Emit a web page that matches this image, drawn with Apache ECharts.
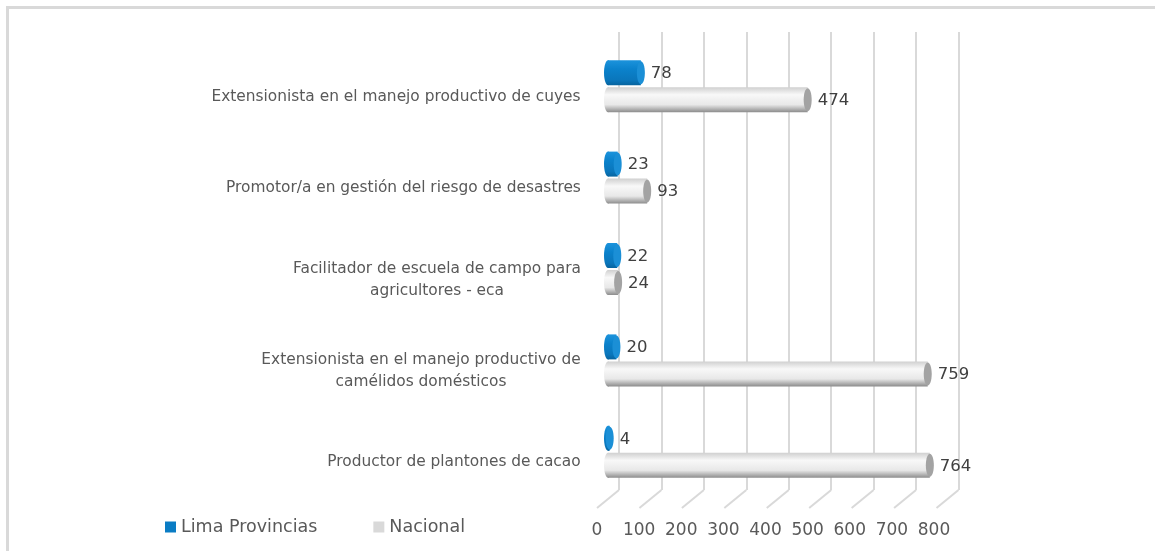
<!DOCTYPE html>
<html>
<head>
<meta charset="utf-8">
<script src="https://cdn.jsdelivr.net/npm/echarts@6/dist/echarts.min.js"></script>
<style>
  html, body { margin: 0; padding: 0; background: #fff; }
  #wrap { position: relative; width: 1155px; height: 551px; }
  #frame {
    position: absolute; left: 6px; top: 6px; right: 0; bottom: 0;
    border-top: 3px solid #d9d9d9; border-left: 3px solid #d9d9d9;
  }
  #chart { position: absolute; left: 0; top: 0; width: 1155px; height: 551px; }
</style>
</head>
<body>
<div id="wrap">
  <div id="frame"></div>
  <div id="chart"></div>
</div>
<script>
const categories = [
  'Extensionista en el manejo productivo de cuyes',
  'Promotor/a en gestión del riesgo de desastres',
  'Facilitador de escuela de campo para\nagricultores - eca',
  'Extensionista en el manejo productivo de\ncamélidos domésticos',
  'Productor de plantones de cacao'
];
const limaValues = [78, 23, 22, 20, 4];
const nacionalValues = [474, 93, 24, 759, 764];
const axisTicks = [0, 100, 200, 300, 400, 500, 600, 700, 800];

const FONT = '"DejaVu Sans", sans-serif';
const catFontSize = 15.4;

const chart = echarts.init(document.getElementById('chart'));

// measure lines so each label block is right-aligned but its lines are centred
const ctx = document.createElement('canvas').getContext('2d');
ctx.font = catFontSize + 'px "DejaVu Sans"';
const rich = {};
categories.forEach((c, i) => {
  const w = Math.max(...c.split('\n').map((l) => ctx.measureText(l).width));
  rich['r' + i] = { width: Math.ceil(w) + 2, align: 'center', fontSize: catFontSize, fontFamily: FONT, color: '#595959', lineHeight: 22 };
});

function cylinder(offset, bodyColor, capColor) {
  return function (params, api) {
    const cat = api.value(0);
    const val = api.value(1);
    const p0 = api.coord([0, cat]);
    const p1 = api.coord([val, cat]);
    const h = 25;
    const rx = 4;
    const cy = p0[1] + offset;
    const grad = new echarts.graphic.LinearGradient(0, 0, 0, 1, bodyColor);
    return {
      type: 'group',
      children: [
        { type: 'ellipse', shape: { cx: p0[0], cy: cy, rx: rx, ry: h / 2 }, style: { fill: grad } },
        { type: 'rect', shape: { x: p0[0], y: cy - h / 2, width: Math.max(p1[0] - p0[0], 0), height: h }, style: { fill: grad } },
        { type: 'ellipse', shape: { cx: p1[0], cy: cy, rx: rx, ry: h / 2 - 1 }, style: { fill: capColor } },
        {
          type: 'text',
          style: {
            x: p1[0] + rx + 6, y: cy + 1, text: String(val),
            fill: '#404040', font: '16.5px ' + FONT, verticalAlign: 'middle', align: 'left'
          }
        }
      ]
    };
  };
}

const grayBody = [
  { offset: 0, color: '#d0d0d0' },
  { offset: 0.3, color: '#f8f8f8' },
  { offset: 0.7, color: '#e8e8e8' },
  { offset: 1, color: '#8c8c8c' }
];
const blueBody = [
  { offset: 0, color: '#1c93dc' },
  { offset: 0.35, color: '#0b82cc' },
  { offset: 0.8, color: '#0a76bb' },
  { offset: 1, color: '#07649f' }
];

chart.setOption({
  animation: false,
  textStyle: { fontFamily: FONT },
  legend: {
    left: 160,
    top: 513,
    itemWidth: 11,
    itemHeight: 11,
    itemGap: 56,
    itemSpacing: 4,
    icon: 'rect',
    textStyle: { fontSize: 17.5, color: '#595959', fontFamily: FONT },
    data: [
      { name: 'Lima Provincias', itemStyle: { color: '#0a7cc4' } },
      { name: 'Nacional', itemStyle: { color: '#d9d9d9' } }
    ]
  },
  grid: [
    { left: 619, right: 196.5, top: 32, bottom: 61 },   // back wall
    { left: 608, right: 210, top: 41, bottom: 53 },     // bars
    { left: 597, right: 221, top: 32, bottom: 41 }      // front tick labels
  ],
  xAxis: [
    {
      gridIndex: 0, type: 'value', min: 0, max: 800, interval: 100,
      axisLine: { show: false }, axisTick: { show: false }, axisLabel: { show: false },
      splitLine: { show: true, lineStyle: { color: '#d9d9d9', width: 2 } }
    },
    {
      gridIndex: 1, type: 'value', min: 0, max: 800,
      axisLine: { show: false }, axisTick: { show: false }, axisLabel: { show: false },
      splitLine: { show: false }
    },
    {
      gridIndex: 2, type: 'value', min: 0, max: 800, interval: 100,
      axisLine: { show: false }, axisTick: { show: false }, splitLine: { show: false },
      axisLabel: { show: true, margin: 12, fontSize: 17, color: '#595959', fontFamily: FONT }
    }
  ],
  yAxis: [
    { gridIndex: 0, type: 'value', min: 0, max: 1, show: false },
    {
      gridIndex: 1, type: 'category', inverse: true, data: categories,
      axisLine: { show: false }, axisTick: { show: false },
      axisLabel: {
        margin: 26,
        padding: [20, 0, 0, 0],
        formatter: function (value, idx) {
          return value.split('\n').map((l) => '{r' + idx + '|' + l + '}').join('\n');
        },
        rich: rich
      }
    },
    { gridIndex: 2, type: 'value', min: 0, max: 1, show: false }
  ],
  series: [
    {
      // floor lines of the 3D wall
      type: 'custom',
      xAxisIndex: 0, yAxisIndex: 0,
      silent: true,
      data: axisTicks.map((v) => [v, 0]),
      renderItem: function (params, api) {
        const p = api.coord([api.value(0), 0]);
        return {
          type: 'line',
          shape: { x1: p[0], y1: p[1], x2: p[0] - 22, y2: p[1] + 18 },
          style: { stroke: '#d9d9d9', lineWidth: 2 }
        };
      }
    },
    {
      name: 'Lima Provincias',
      type: 'custom',
      xAxisIndex: 1, yAxisIndex: 1,
      itemStyle: { color: '#0a7cc4' },
      encode: { x: 1, y: 0 },
      data: limaValues.map((v, i) => [i, v]),
      renderItem: cylinder(-14, blueBody, '#1b8fd6')
    },
    {
      name: 'Nacional',
      type: 'custom',
      xAxisIndex: 1, yAxisIndex: 1,
      itemStyle: { color: '#d9d9d9' },
      encode: { x: 1, y: 0 },
      data: nacionalValues.map((v, i) => [i, v]),
      renderItem: cylinder(13, grayBody, '#a3a3a3')
    }
  ]
});
</script>
</body>
</html>
